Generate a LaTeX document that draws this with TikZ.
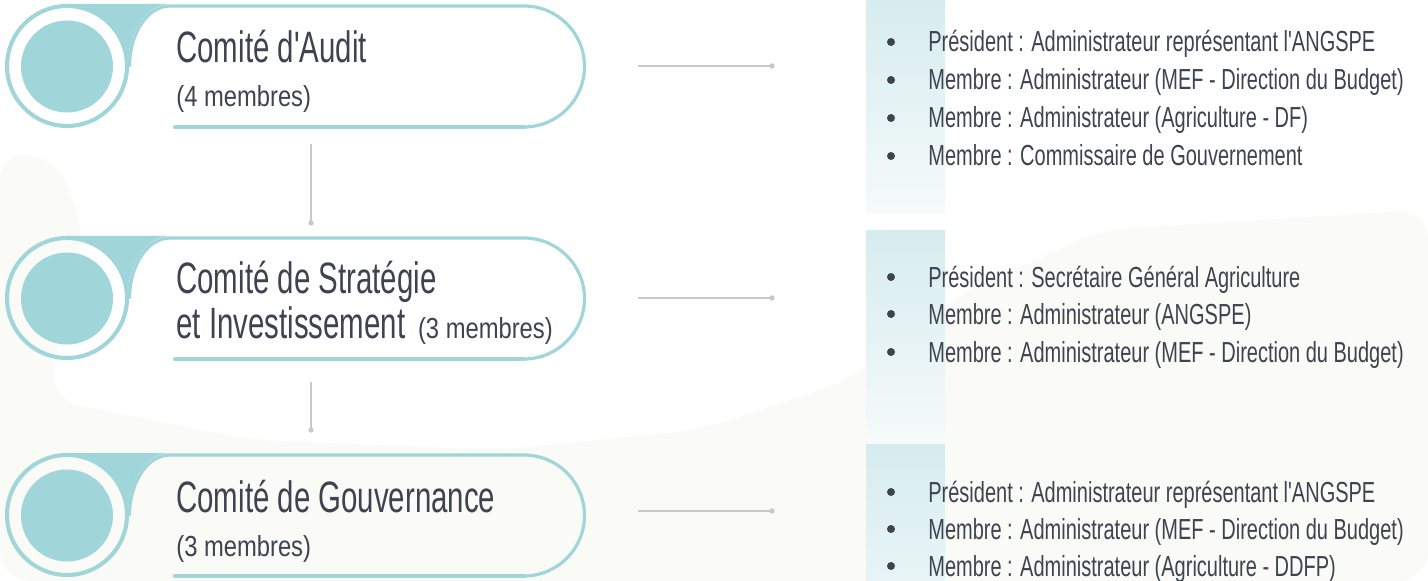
\documentclass[tikz,border=0pt]{standalone}
\usepackage{fontspec}
\setmainfont{Liberation Sans}
\newfontfamily\titlefont{Liberation Sans}[FakeStretch=0.67]
\newfontfamily\subfont{Liberation Sans}[FakeStretch=0.82]
\newfontfamily\itemfont{Liberation Sans}[FakeStretch=0.69]
\usetikzlibrary{positioning}

\definecolor{teal0}{RGB}{160,213,217}
\definecolor{ink}{RGB}{61,68,80}
\definecolor{wire}{RGB}{200,200,200}
\definecolor{paper}{RGB}{250,250,246}
\definecolor{band}{RGB}{214,236,239}
\definecolor{bandlow}{RGB}{246,250,250}

\tikzset{
  ring/.style={draw=teal0, line width=2.3pt},
  rim/.style={draw=teal0, line width=1.8pt},
  rimbase/.style={draw=teal0, line width=2.5pt, line cap=round},
  title/.style={anchor=base west, inner sep=0pt, text=ink, font=\titlefont\fontsize{25}{30}\selectfont},
  members/.style={anchor=base west, inner sep=0pt, text=ink, font=\subfont\fontsize{16.5}{20}\selectfont},
  item/.style={anchor=base west, inner sep=0pt, text=ink, font=\itemfont\fontsize{16.5}{20}\selectfont},
  link/.style={draw=wire, line width=0.9pt},
}

\begin{document}
\begin{tikzpicture}[x=0.02cm, y=0.02cm]
\useasboundingbox (0,0) rectangle (1428,-581);
\fill[white] (0,0) rectangle (1428,-581);
\fill[paper, rounded corners=0.6cm] (0,-150) -- (60,-160) -- (85,-240) -- (60,-330) -- (50,-400) -- (250,-440) -- (500,-450) -- (700,-430) -- (850,-380) -- (950,-300) -- (1100,-230) -- (1428,-210) -- (1428,-581) -- (0,-581) -- cycle;

\shade[top color=band, bottom color=bandlow] (866,0) rectangle (945,-213);
\shade[top color=band, bottom color=bandlow] (866,-231) rectangle (945,-443);
\shade[top color=band, bottom color=band!55!white] (866,-444) rectangle (945,-581);

\fill[teal0] (67,-4) -- (170,-4) arc[start angle=90, end angle=180, x radius=42, y radius=62] arc[start angle=0, end angle=90, radius=61] -- cycle;
\draw[ring] (67,-66) circle (60);
\fill[teal0] (67,-66.5) circle (46);
\draw[rim] (175,-127) -- (524,-127) arc[start angle=-90, end angle=90, radius=60.5] -- (170,-6) arc[start angle=90, end angle=180, x radius=40.5, y radius=60.5];
\draw[rimbase] (175,-127) -- (524,-127);
\node[title] (t1) at (176,-63) {Comité d'Audit};
\node[members] (m1) at (176,-107) {(4 membres)};

\fill[teal0] (67,-236) -- (170,-236) arc[start angle=90, end angle=180, x radius=42, y radius=62] arc[start angle=0, end angle=90, radius=61] -- cycle;
\draw[ring] (67,-298) circle (60);
\fill[teal0] (67,-298.5) circle (46);
\draw[rim] (175,-359) -- (524,-359) arc[start angle=-90, end angle=90, radius=60.5] -- (170,-238) arc[start angle=90, end angle=180, x radius=40.5, y radius=60.5];
\draw[rimbase] (175,-359) -- (524,-359);
\node[title] (t2) at (176,-294) {Comité de Stratégie};
\node[title] (t2b) at (176,-338) {et Investissement};
\node[members, right=0.24cm of t2b.base east, anchor=base west] (m2) {(3 membres)};

\fill[teal0] (67,-453) -- (170,-453) arc[start angle=90, end angle=180, x radius=42, y radius=62] arc[start angle=0, end angle=90, radius=61] -- cycle;
\draw[ring] (67,-515) circle (60);
\fill[teal0] (67,-515.5) circle (46);
\draw[rim] (175,-576) -- (524,-576) arc[start angle=-90, end angle=90, radius=60.5] -- (170,-455) arc[start angle=90, end angle=180, x radius=40.5, y radius=60.5];
\draw[rimbase] (175,-576) -- (524,-576);
\node[title] (t3) at (176,-512) {Comité de Gouvernance};
\node[members] (m3) at (176,-556) {(3 membres)};

\coordinate (v1a) at (311,-144);
\coordinate (v1b) at (311,-223);
\coordinate (v2a) at (311,-382);
\coordinate (v2b) at (311,-430);
\draw[link] (v1a) -- (v1b);
\fill[wire] (v1b) circle (2.7);
\draw[link] (v2a) -- (v2b);
\fill[wire] (v2b) circle (2.7);

\coordinate (h1a) at (638,-66);
\coordinate (h1b) at (772,-66);
\coordinate (h2a) at (638,-298);
\coordinate (h2b) at (772,-298);
\coordinate (h3a) at (638,-511);
\coordinate (h3b) at (772,-511);
\draw[link] (h1a) -- (h1b);
\fill[wire] (h1b) circle (2.7);
\draw[link] (h2a) -- (h2b);
\fill[wire] (h2b) circle (2.7);
\draw[link] (h3a) -- (h3b);
\fill[wire] (h3b) circle (2.7);

\fill[ink] (891,-42) circle (4);
\fill[ink] (891,-80) circle (4);
\fill[ink] (891,-118) circle (4);
\fill[ink] (891,-156) circle (4);
\node[item] (p11) at (928,-52) {Président : Administrateur représentant l'ANGSPE};
\node[item] (p12) at (928,-90) {Membre : Administrateur (MEF - Direction du Budget)};
\node[item] (p13) at (928,-128) {Membre : Administrateur (Agriculture - DF)};
\node[item] (p14) at (928,-166) {Membre : Commissaire de Gouvernement};

\fill[ink] (891,-277) circle (4);
\fill[ink] (891,-314) circle (4);
\fill[ink] (891,-352) circle (4);
\node[item] (p21) at (928,-287) {Président : Secrétaire Général Agriculture};
\node[item] (p22) at (928,-324) {Membre : Administrateur (ANGSPE)};
\node[item] (p23) at (928,-362) {Membre : Administrateur (MEF - Direction du Budget)};

\fill[ink] (891,-492) circle (4);
\fill[ink] (891,-529) circle (4);
\fill[ink] (891,-566) circle (4);
\node[item] (p31) at (928,-502) {Président : Administrateur représentant l'ANGSPE};
\node[item] (p32) at (928,-539) {Membre : Administrateur (MEF - Direction du Budget)};
\node[item] (p33) at (928,-576) {Membre : Administrateur (Agriculture - DDFP)};
\end{tikzpicture}
\end{document}
